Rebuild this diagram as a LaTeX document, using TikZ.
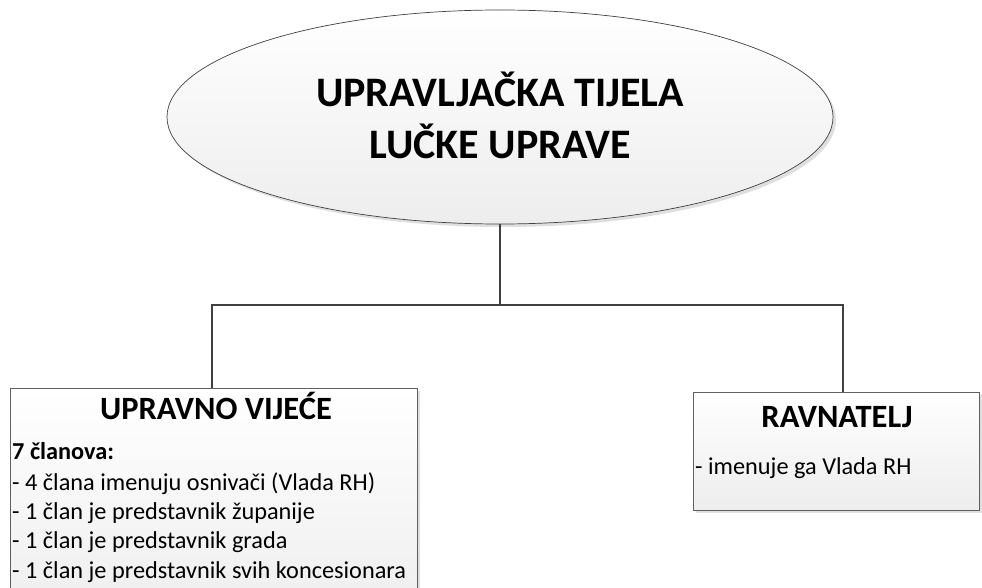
\documentclass[tikz,border=0pt]{standalone}
\usepackage{fontspec}
\setmainfont{Carlito}
\usetikzlibrary{shapes.geometric,shadows,calc}
\definecolor{linec}{HTML}{404040}
\definecolor{bordc}{HTML}{606060}
\definecolor{fillbot}{HTML}{EDEDED}
\begin{document}
\begin{tikzpicture}[x=1pt,y=-1pt,
  conn/.style={draw=linec,line width=2pt},
  shadowed/.style={drop shadow={shadow xshift=3pt,shadow yshift=-3pt,fill=gray!50,opacity=0.5}},
  boxst/.style={rectangle,draw=bordc,line width=0.8pt,top color=white,bottom color=fillbot,inner sep=0pt,anchor=north west,shadowed},
  ellst/.style={ellipse,draw=linec,line width=0.7pt,top color=white,bottom color=fillbot,inner sep=0pt,shadowed},
  titlest/.style={font=\fontsize{42}{52}\selectfont\bfseries,inner sep=0pt,anchor=base},
  hdr/.style={font=\fontsize{32.5}{38}\selectfont\bfseries,inner sep=0pt,anchor=base},
  body/.style={font=\fontsize{24.3}{29.5}\selectfont,inner sep=0pt,anchor=base west},
  bodyb/.style={font=\fontsize{24.3}{29.5}\selectfont\bfseries,inner sep=0pt,anchor=base west}]
\useasboundingbox (0,0) rectangle (982,588);
\clip (0,0) rectangle (982,588);
% top ellipse
\node[ellst,minimum width=666pt,minimum height=214pt] (ell) at (500,117) {};
\node[titlest] (t1) at (500,107) {UPRAVLJAČKA TIJELA};
\node[titlest] (t2) at (500,159) {LUČKE UPRAVE};
% boxes
\node[boxst,minimum width=407pt,minimum height=240pt] (uv) at (10,388) {};
\node[boxst,minimum width=286pt,minimum height=118pt] (rv) at (693,392) {};
% connectors
\coordinate (j) at (500,305);
\draw[conn] (ell.south) -- (j);
\draw[conn] ([xshift=-1.5pt]uv.north) |- (j) -| ([xshift=7pt]rv.north);
% left box text
\node[hdr] (uvh) at (216,419) {UPRAVNO VIJEĆE};
\node[bodyb] (uv0) at (12,459) {7 članova:};
\node[body] (uv1) at (12,490.5) {- 4 člana imenuju osnivači (Vlada RH)};
\node[body] (uv2) at (12,519.5) {- 1 član je predstavnik županije};
\node[body] (uv3) at (12,548.5) {- 1 član je predstavnik grada};
\node[body] (uv4) at (12,578) {- 1 član je predstavnik svih koncesionara};
% right box text
\node[hdr] (rvh) at (837,427) {RAVNATELJ};
\node[body] (rv1) at (695,474) {- imenuje ga Vlada RH};
\end{tikzpicture}
\end{document}
